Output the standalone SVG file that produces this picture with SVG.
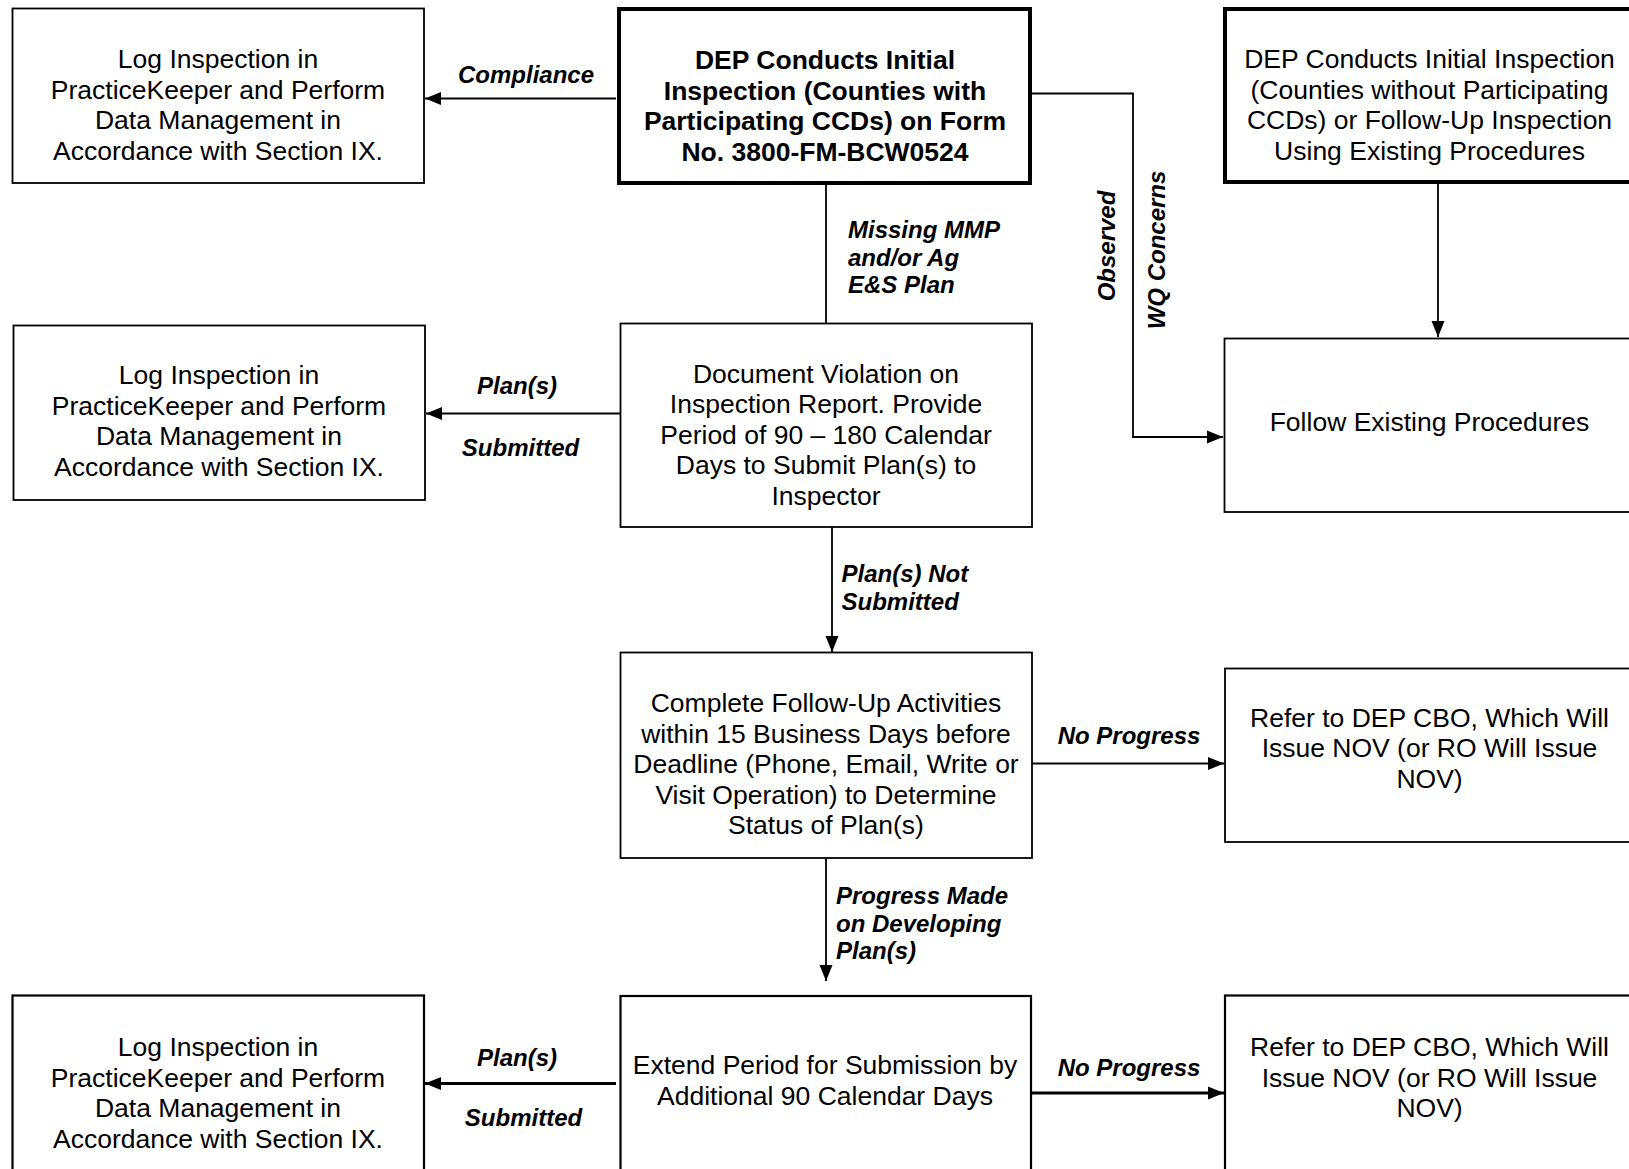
<svg xmlns="http://www.w3.org/2000/svg" width="1629" height="1169" viewBox="0 0 1629 1169">
<style>
.box{fill:#fff;stroke:#000;stroke-width:1.8}
.thick{fill:#fff;stroke:#000;stroke-width:4}
.t{font-family:"Liberation Sans",Arial,sans-serif;font-size:26.5px;fill:#000;text-anchor:middle}
.b{font-weight:bold}
.lbl{font-family:"Liberation Sans",Arial,sans-serif;font-size:24px;font-weight:bold;font-style:italic;fill:#000}
.m{text-anchor:middle}
.c{fill:none;stroke:#000;stroke-width:1.8}
.c2{fill:none;stroke:#000;stroke-width:2.8}
</style>
<defs>
<marker id="ah" markerUnits="userSpaceOnUse" markerWidth="16" markerHeight="16" viewBox="0 0 16 16" refX="16" refY="8" orient="auto">
<path d="M0,1.5 L16,8 L0,14.5 Z" fill="#000"/>
</marker>
</defs>
<g id="connectors">
<path class="c" d="M616,98.5 L425,98.5" marker-end="url(#ah)"/>
<path class="c" d="M826,184 L826,323"/>
<path class="c" d="M1031,93.5 L1133,93.5 L1133,437 L1223,437" marker-end="url(#ah)"/>
<path class="c" d="M1438,183 L1438,337" marker-end="url(#ah)"/>
<path class="c" d="M620,413.5 L426,413.5" marker-end="url(#ah)"/>
<path class="c" d="M832,527 L832,652" marker-end="url(#ah)"/>
<path class="c" d="M1032,763.5 L1224,763.5" marker-end="url(#ah)"/>
<path class="c" d="M826,858 L826,981" marker-end="url(#ah)"/>
<path class="c2" d="M616,1083.5 L425,1083.5" marker-end="url(#ah)"/>
<path class="c2" d="M1031,1093 L1224,1093" marker-end="url(#ah)"/>
<text class="lbl m" x="526" y="83">Compliance</text>
<text class="lbl" x="848" y="238">Missing MMP</text>
<text class="lbl" x="848" y="266">and/or Ag</text>
<text class="lbl" x="848" y="293">E&amp;S Plan</text>
<text class="lbl m" transform="translate(1115,246) rotate(-90)">Observed</text>
<text class="lbl m" transform="translate(1164.5,250) rotate(-90)">WQ Concerns</text>
<text class="lbl m" x="517" y="393.5">Plan(s)</text>
<text class="lbl m" x="520.5" y="456">Submitted</text>
<text class="lbl" x="841.5" y="582">Plan(s) Not</text>
<text class="lbl" x="841.5" y="610">Submitted</text>
<text class="lbl m" x="1129" y="744">No Progress</text>
<text class="lbl" x="836" y="904">Progress Made</text>
<text class="lbl" x="836" y="932">on Developing</text>
<text class="lbl" x="836" y="959">Plan(s)</text>
<text class="lbl m" x="517" y="1066">Plan(s)</text>
<text class="lbl m" x="523.5" y="1126">Submitted</text>
<text class="lbl m" x="1129" y="1076">No Progress</text>
</g>
<g id="logTop">
<rect class="box" x="12.5" y="8.5" width="411.5" height="174.5"/>
<text class="t" x="218" y="68">Log Inspection in</text>
<text class="t" x="218" y="98.5">PracticeKeeper and Perform</text>
<text class="t" x="218" y="129">Data Management in</text>
<text class="t" x="218" y="159.5">Accordance with Section IX.</text>
</g>
<g id="depInitial">
<rect class="thick" x="619" y="9" width="411" height="174"/>
<text class="t b" x="825" y="69">DEP Conducts Initial</text>
<text class="t b" x="825" y="99.5">Inspection (Counties with</text>
<text class="t b" x="825" y="130">Participating CCDs) on Form</text>
<text class="t b" x="825" y="160.5">No. 3800-FM-BCW0524</text>
</g>
<g id="depOther">
<rect class="thick" x="1225" y="9" width="420" height="173"/>
<text class="t" x="1429.5" y="68">DEP Conducts Initial Inspection</text>
<text class="t" x="1429.5" y="98.5">(Counties without Participating</text>
<text class="t" x="1429.5" y="129">CCDs) or Follow-Up Inspection</text>
<text class="t" x="1429.5" y="159.5">Using Existing Procedures</text>
</g>
<g id="docViolation">
<rect class="box" x="620.5" y="323.5" width="411.5" height="203.5"/>
<text class="t" x="826" y="382.5">Document Violation on</text>
<text class="t" x="826" y="413">Inspection Report. Provide</text>
<text class="t" x="826" y="443.5">Period of 90 – 180 Calendar</text>
<text class="t" x="826" y="474">Days to Submit Plan(s) to</text>
<text class="t" x="826" y="504.5">Inspector</text>
</g>
<g id="followExisting">
<rect class="box" x="1224.5" y="338.5" width="420" height="173.5"/>
<text class="t" x="1429.5" y="430.5">Follow Existing Procedures</text>
</g>
<g id="logMid">
<rect class="box" x="13.5" y="325.5" width="411.5" height="174.5"/>
<text class="t" x="219" y="384">Log Inspection in</text>
<text class="t" x="219" y="414.5">PracticeKeeper and Perform</text>
<text class="t" x="219" y="445">Data Management in</text>
<text class="t" x="219" y="475.5">Accordance with Section IX.</text>
</g>
<g id="followUp">
<rect class="box" x="620.5" y="652.5" width="411.5" height="205.5"/>
<text class="t" x="826" y="712">Complete Follow-Up Activities</text>
<text class="t" x="826" y="742.5">within 15 Business Days before</text>
<text class="t" x="826" y="773">Deadline (Phone, Email, Write or</text>
<text class="t" x="826" y="803.5">Visit Operation) to Determine</text>
<text class="t" x="826" y="834">Status of Plan(s)</text>
</g>
<g id="referMid">
<rect class="box" x="1225" y="668.5" width="420" height="173.5"/>
<text class="t" x="1429.5" y="726.5">Refer to DEP CBO, Which Will</text>
<text class="t" x="1429.5" y="757">Issue NOV (or RO Will Issue</text>
<text class="t" x="1429.5" y="787.5">NOV)</text>
</g>
<g id="extend">
<rect class="box" x="620.5" y="996" width="410.5" height="190" style="stroke-width:2.2"/>
<text class="t" x="825" y="1073.5">Extend Period for Submission by</text>
<text class="t" x="825" y="1104.5">Additional 90 Calendar Days</text>
</g>
<g id="logBottom">
<rect class="box" x="12.5" y="995.5" width="411.5" height="190" style="stroke-width:2.2"/>
<text class="t" x="218" y="1056">Log Inspection in</text>
<text class="t" x="218" y="1086.5">PracticeKeeper and Perform</text>
<text class="t" x="218" y="1117">Data Management in</text>
<text class="t" x="218" y="1147.5">Accordance with Section IX.</text>
</g>
<g id="referBottom">
<rect class="box" x="1225" y="995.5" width="420" height="190" style="stroke-width:2.2"/>
<text class="t" x="1429.5" y="1056">Refer to DEP CBO, Which Will</text>
<text class="t" x="1429.5" y="1086.5">Issue NOV (or RO Will Issue</text>
<text class="t" x="1429.5" y="1117">NOV)</text>
</g>
</svg>
